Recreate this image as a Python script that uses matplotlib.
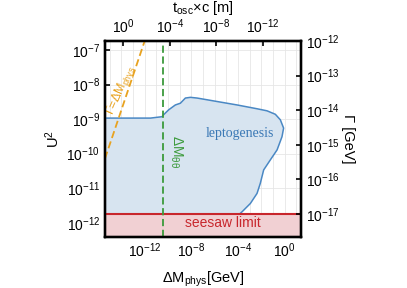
import numpy as np
import matplotlib.pyplot as plt
from matplotlib.ticker import FixedLocator, NullLocator, NullFormatter

plt.rcParams['font.family'] = ['Liberation Sans', 'DejaVu Sans']
plt.rcParams['mathtext.default'] = 'regular'

# axis ranges, log10 values
dm_lim = (-15.4, 1.4)       # Delta M_phys [GeV]
u2_lim = (-12.41, -6.74)    # U^2
gamma_shift = -5.26         # log10(Gamma) = log10(U^2) + gamma_shift
tosc_const = -13.85         # log10(t_osc*c) = tosc_const - log10(Delta M)

# leptogenesis boundary (log10)
lepto_dm = [-15.4, -11.5, -10.51, -10.4, -9.94, -9.37, -8.94, -8.51, -8.08,
            -7.51, -5.80, -4.08, -2.37, -1.51, -0.80, -0.37, -0.09, -0.23,
            -0.65, -1.23, -1.80, -2.09, -2.37, -2.94, -3.65, -3.85]
lepto_u2 = [-8.97, -8.97, -8.93, -8.88, -8.73, -8.59, -8.54, -8.39, -8.37,
            -8.39, -8.49, -8.59, -8.70, -8.76, -8.86, -9.02, -9.26, -9.51,
            -9.89, -10.18, -10.47, -10.86, -11.15, -11.44, -11.68, -11.74]

seesaw_gamma = -17.0    # log10 Gamma [GeV]
dm_thetatheta = -10.4   # log10 Delta M_theta theta [GeV]

top_ticks = [0, -4, -8, -12]
bottom_ticks = [-12, -8, -4, 0]
left_ticks = [-12, -11, -10, -9, -8, -7]
right_ticks = [-17, -16, -15, -14, -13, -12]

blue = '#4a88c4'
red = '#c8262c'
green = '#3b9a3b'
orange = '#e8a21f'

fig = plt.figure(figsize=(4.07, 2.88), dpi=100)
ax = fig.add_axes([105 / 407, 51 / 288, 196 / 407, 196 / 288])
ax.set_xscale('log')
ax.set_yscale('log')
ax.set_xlim(10.0 ** dm_lim[0], 10.0 ** dm_lim[1])
ax.set_ylim(10.0 ** u2_lim[0], 10.0 ** u2_lim[1])

seesaw_u2 = 10.0 ** (seesaw_gamma - gamma_shift)

# leptogenesis region
lx = 10.0 ** np.array(lepto_dm)
ly = 10.0 ** np.array(lepto_u2)
ax.fill(np.r_[lx[0], lx, lx[-1]], np.r_[seesaw_u2, ly, seesaw_u2],
        color='#d7e4f0', lw=0, zorder=1)
ax.plot(lx, ly, color=blue, lw=1.1, zorder=3)
ax.text(10.0 ** -3.8, 10.0 ** -9.43, 'leptogenesis', color='#3a78b5',
        family=['Liberation Serif', 'DejaVu Serif'], fontsize=10,
        ha='center', va='center', zorder=5)

# seesaw limit
ax.axhspan(10.0 ** u2_lim[0], seesaw_u2, color='#f1d0d3', lw=0, zorder=2)
ax.axhline(seesaw_u2, color=red, lw=1.5, zorder=4)
ax.text(10.0 ** -5.33, 10.0 ** -12.0, 'seesaw limit', color=red, fontsize=10,
        ha='center', va='center', zorder=5)

# Delta M_theta theta
ax.axvline(10.0 ** dm_thetatheta, color=green, lw=1.3, ls=(0, (4, 2)), zorder=4)
ax.text(10.0 ** -9.27, 10.0 ** -9.95, 'ΔM$_{θθ}$', color=green,
        fontsize=10, rotation=-90, ha='center', va='center', zorder=5)

# Gamma = Delta M_phys
gx = np.array([dm_lim[0], -11.5])
ax.plot(10.0 ** gx, 10.0 ** (gx - gamma_shift), color=orange, lw=1.3,
        ls=(0, (4, 2)), zorder=4)
ax.text(10.0 ** -14.05, 10.0 ** -8.15, 'Γ=ΔM$_{phys}$', color=orange,
        fontsize=9, rotation=66, ha='center', va='center', zorder=6)

# grid
ax.xaxis.set_major_locator(FixedLocator([10.0 ** k for k in bottom_ticks]))
ax.xaxis.set_minor_locator(FixedLocator([10.0 ** k for k in range(-15, 2)]))
ax.xaxis.set_minor_formatter(NullFormatter())
ax.yaxis.set_major_locator(FixedLocator([10.0 ** k for k in left_ticks]))
ax.yaxis.set_minor_locator(NullLocator())
ax.grid(True, which='both', axis='x', color='#e6e6e6', lw=0.6, zorder=0)
ax.grid(True, which='major', axis='y', color='#e6e6e6', lw=0.6, zorder=0)
ax.set_axisbelow(True)
ax.tick_params(which='major', direction='in', length=3.5, width=1.2,
               labelsize=10, top=False, right=False)
ax.tick_params(which='minor', length=0)
ax.set_xlabel('ΔM$_{phys}$[GeV]', fontsize=10.5, labelpad=7)
ax.set_ylabel('U$^2$', fontsize=10.5, labelpad=3)

# top axis: oscillation length
ax_top = ax.twiny()
ax_top.set_xscale('log')
ax_top.set_xlim(10.0 ** (tosc_const - dm_lim[0]), 10.0 ** (tosc_const - dm_lim[1]))
ax_top.xaxis.set_major_locator(FixedLocator([10.0 ** k for k in top_ticks]))
ax_top.xaxis.set_minor_locator(NullLocator())
ax_top.tick_params(direction='in', length=3.5, width=1.2, labelsize=10)
ax_top.set_xlabel('t$_{osc}$×c [m]', fontsize=10.5, labelpad=4)

# right axis: width
ax_r = ax.twinx()
ax_r.set_yscale('log')
ax_r.set_ylim(10.0 ** (u2_lim[0] + gamma_shift), 10.0 ** (u2_lim[1] + gamma_shift))
ax_r.yaxis.set_major_locator(FixedLocator([10.0 ** k for k in right_ticks]))
ax_r.yaxis.set_minor_locator(NullLocator())
ax_r.tick_params(direction='in', length=3.5, width=1.2, labelsize=10)
ax_r.set_ylabel('Γ [GeV]', fontsize=10.5, rotation=-90, labelpad=11)

for a in (ax, ax_top, ax_r):
    for s in a.spines.values():
        s.set_linewidth(1.6)

fig.savefig('out.png', dpi=100)
